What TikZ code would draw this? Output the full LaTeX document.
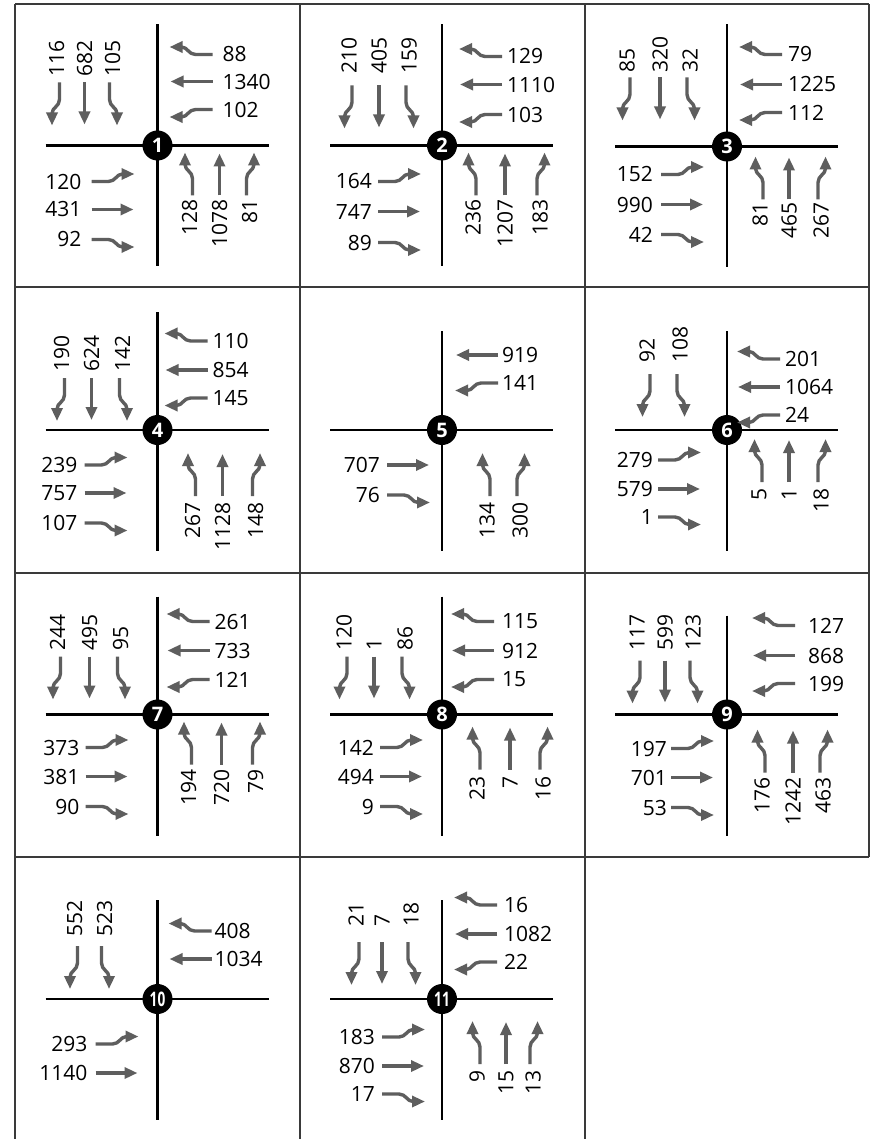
\documentclass[tikz,border=0pt]{standalone}
\usepackage{fontspec}
\setmainfont{Open Sans}
\usepackage{tikz}
\usetikzlibrary{arrows.meta,calc}
\definecolor{flowgray}{RGB}{94,94,94}
\definecolor{gridgray}{RGB}{58,58,58}
\tikzset{
  grid line/.style={line width=1.3pt,draw=gridgray},
  road/.style={line width=2.1pt},
  flow/.style={line width=3.4pt,line join=round,draw=flowgray,
    -{Triangle[length=13pt,width=11pt]}},
  vol/.style={font=\fontsize{21}{21}\selectfont,inner sep=0pt},
  num/.style={circle,fill=black,text=white,minimum size=30pt,inner sep=0pt,
    font=\bfseries\fontsize{20}{20}\selectfont},
  thru/.pic={\draw[flow] (0,0) -- (42,0);},
  lturn/.pic={\draw[flow] (0,0) -- (17,0) .. controls (24,0) and (25,7.5) .. (31,7.5) -- (43,7.5);},
  rturn/.pic={\draw[flow] (0,0) -- (17,0) .. controls (24,0) and (25,-7.5) .. (31,-7.5) -- (43,-7.5);}
}
% label shift towards the hook
\newcommand{\offthru}{0}
\newcommand{\offlturn}{3}
\newcommand{\offrturn}{-3}
% one crossing: id, x, y, top of the north leg
\newcommand{\crossing}[4]{%
  \coordinate (c#1) at (#2,#3);
  \draw[road] ($(c#1)+(-112,0)$) -- ($(c#1)+(111,0)$)
              ($(c#1)+(0,#4)$) -- ($(c#1)+(0,-121)$);
  \node[num] (n#1) at (c#1) {\ifnum#1>9 \scalebox{0.68}[1]{#1}\else#1\fi};
  \def\cc{c#1}}
% approaches: arrow start, label base, lanes
\newcommand{\sbound}[3]{%
  \foreach \x/\p/\v [count=\i] in {#3} {
    \edef\lo{\csname off\p\endcsname}
    \pic[rotate=-90] at ($(\cc)+(\x,#1)$) {\p};
    \node[vol,rotate=90,anchor=west] (\cc sb\i) at ($(\cc)+(\x+\lo,#2)$) {\v};}}
\newcommand{\wbound}[3]{%
  \foreach \y/\p/\v [count=\i] in {#3} {
    \pic[rotate=180] at ($(\cc)+(#1,\y)$) {\p};
    \node[vol,anchor=west] (\cc wb\i) at ($(\cc)+(#2,\y)$) {\v};}}
\newcommand{\ebound}[3]{%
  \foreach \y/\p/\v [count=\i] in {#3} {
    \pic at ($(\cc)+(#1,\y)$) {\p};
    \node[vol,anchor=east] (\cc eb\i) at ($(\cc)+(#2,\y)$) {\v};}}
\newcommand{\nbound}[3]{%
  \foreach \x/\p/\v [count=\i] in {#3} {
    \edef\lo{\csname off\p\endcsname}
    \pic[rotate=90] at ($(\cc)+(\x,#1)$) {\p};
    \node[vol,rotate=90,anchor=east] (\cc nb\i) at ($(\cc)+(\x-\lo,#2)$) {\v};}}

\begin{document}
\begin{tikzpicture}[x=1pt,y=1pt]
  \useasboundingbox (0,0) rectangle (873,-1139);
  \fill[white] (0,0) rectangle (873,-1139);

  \draw[grid line] (15,-4) -- (869,-4) (15,-287) -- (869,-287)
        (15,-573) -- (869,-573) (15,-857) -- (869,-857);
  \draw[grid line] (15,-4) -- (15,-1139) (300,-4) -- (300,-1139)
        (585,-4) -- (585,-1139) (869,-4) -- (869,-857);

  \crossing{1}{157.5}{-145.5}{121}
  \sbound{63}{69}{-98/rturn/116,-73/thru/682,-48/lturn/105}
  \wbound{55}{65}{91/rturn/88,64/thru/1340,36/lturn/102}
  \ebound{-66}{-76}{-36/lturn/120,-64/thru/431,-94/rturn/92}
  \nbound{-50}{-54}{35/lturn/128,62/thru/1078,89/rturn/81}

  \crossing{2}{442}{-145.5}{121}
  \sbound{60}{72}{-90/rturn/210,-63/thru/405,-36/lturn/159}
  \wbound{60}{65}{89/rturn/129,61/thru/1110,31/lturn/103}
  \ebound{-64}{-70}{-36/lturn/164,-66/thru/747,-97/rturn/89}
  \nbound{-50}{-54}{34/lturn/236,63/thru/1207,95/rturn/183}

  \crossing{3}{727}{-146.5}{122}
  \sbound{69}{74}{-97/rturn/85,-67/thru/320,-40/lturn/32}
  \wbound{55}{61}{92/rturn/79,62/thru/1225,34/lturn/112}
  \ebound{-66}{-74}{-28/lturn/152,-58/thru/990,-88/rturn/42}
  \nbound{-53}{-56}{36/lturn/81,62/thru/465,91/rturn/267}

  \crossing{4}{157.5}{-430}{118}
  \sbound{52}{58}{-93/rturn/190,-66/thru/624,-38/lturn/142}
  \wbound{50}{55}{89/rturn/110,60/thru/854,32/lturn/145}
  \ebound{-73}{-80}{-35/lturn/239,-63/thru/757,-93/rturn/107}
  \nbound{-66}{-72}{38/lturn/267,65/thru/1128,95/rturn/148}

  \crossing{5}{442}{-430}{99}
  \wbound{56}{60}{75/thru/919,47/lturn/141}
  \ebound{-55}{-62}{-35/thru/707,-65/rturn/76}
  \nbound{-66}{-72}{48/lturn/134,75/rturn/300}

  \crossing{6}{727}{-430}{99}
  \sbound{56}{67}{-77/rturn/92,-50/lturn/108}
  \wbound{53}{58}{71/rturn/201,43/thru/1064,15/lturn/24}
  \ebound{-69}{-74}{-30/lturn/279,-59/thru/579,-87/rturn/1}
  \nbound{-52}{-58}{35/lturn/5,62/thru/1,91/rturn/18}

  \crossing{7}{157.5}{-714.5}{118}
  \sbound{58}{64}{-97/rturn/244,-68/thru/495,-40/lturn/95}
  \wbound{52}{57}{93/rturn/261,64/thru/733,35/lturn/121}
  \ebound{-72}{-78}{-33/lturn/373,-62/thru/381,-92/rturn/90}
  \nbound{-50}{-55}{34/lturn/194,64/thru/720,95/rturn/79}

  \crossing{8}{442}{-714.5}{118}
  \sbound{58}{64}{-95/rturn/120,-68/thru/1,-40/lturn/86}
  \wbound{52}{60}{93/rturn/115,64/thru/912,35/lturn/15}
  \ebound{-62}{-68}{-33/lturn/142,-62/thru/494,-92/rturn/9}
  \nbound{-55}{-62}{38/lturn/23,68/thru/7,98/rturn/16}

  \crossing{9}{727}{-714.5}{99}
  \sbound{54}{64}{-87/rturn/117,-62/thru/599,-37/lturn/123}
  \wbound{68}{81}{89/rturn/127,59/thru/868,31/lturn/199}
  \ebound{-56}{-60}{-34/lturn/197,-63/thru/701,-93/rturn/53}
  \nbound{-58}{-63}{38/lturn/176,66/thru/1242,93/rturn/463}

  \crossing{10}{157.5}{-999}{99}
  \sbound{53}{62}{-80/rturn/552,-56/lturn/523}
  \wbound{54}{57}{68/rturn/408,40/thru/1034}
  \ebound{-62}{-70}{-45/lturn/293,-74/thru/1140}

  \crossing{11}{442}{-999}{99}
  \sbound{57}{72}{-83/rturn/21,-60/thru/7,-34/lturn/18}
  \wbound{55}{62}{94/rturn/16,65/thru/1082,37/lturn/22}
  \ebound{-60}{-67}{-38/lturn/183,-67/thru/870,-95/rturn/17}
  \nbound{-65}{-71}{38/lturn/9,64/thru/15,88/rturn/13}
\end{tikzpicture}
\end{document}
